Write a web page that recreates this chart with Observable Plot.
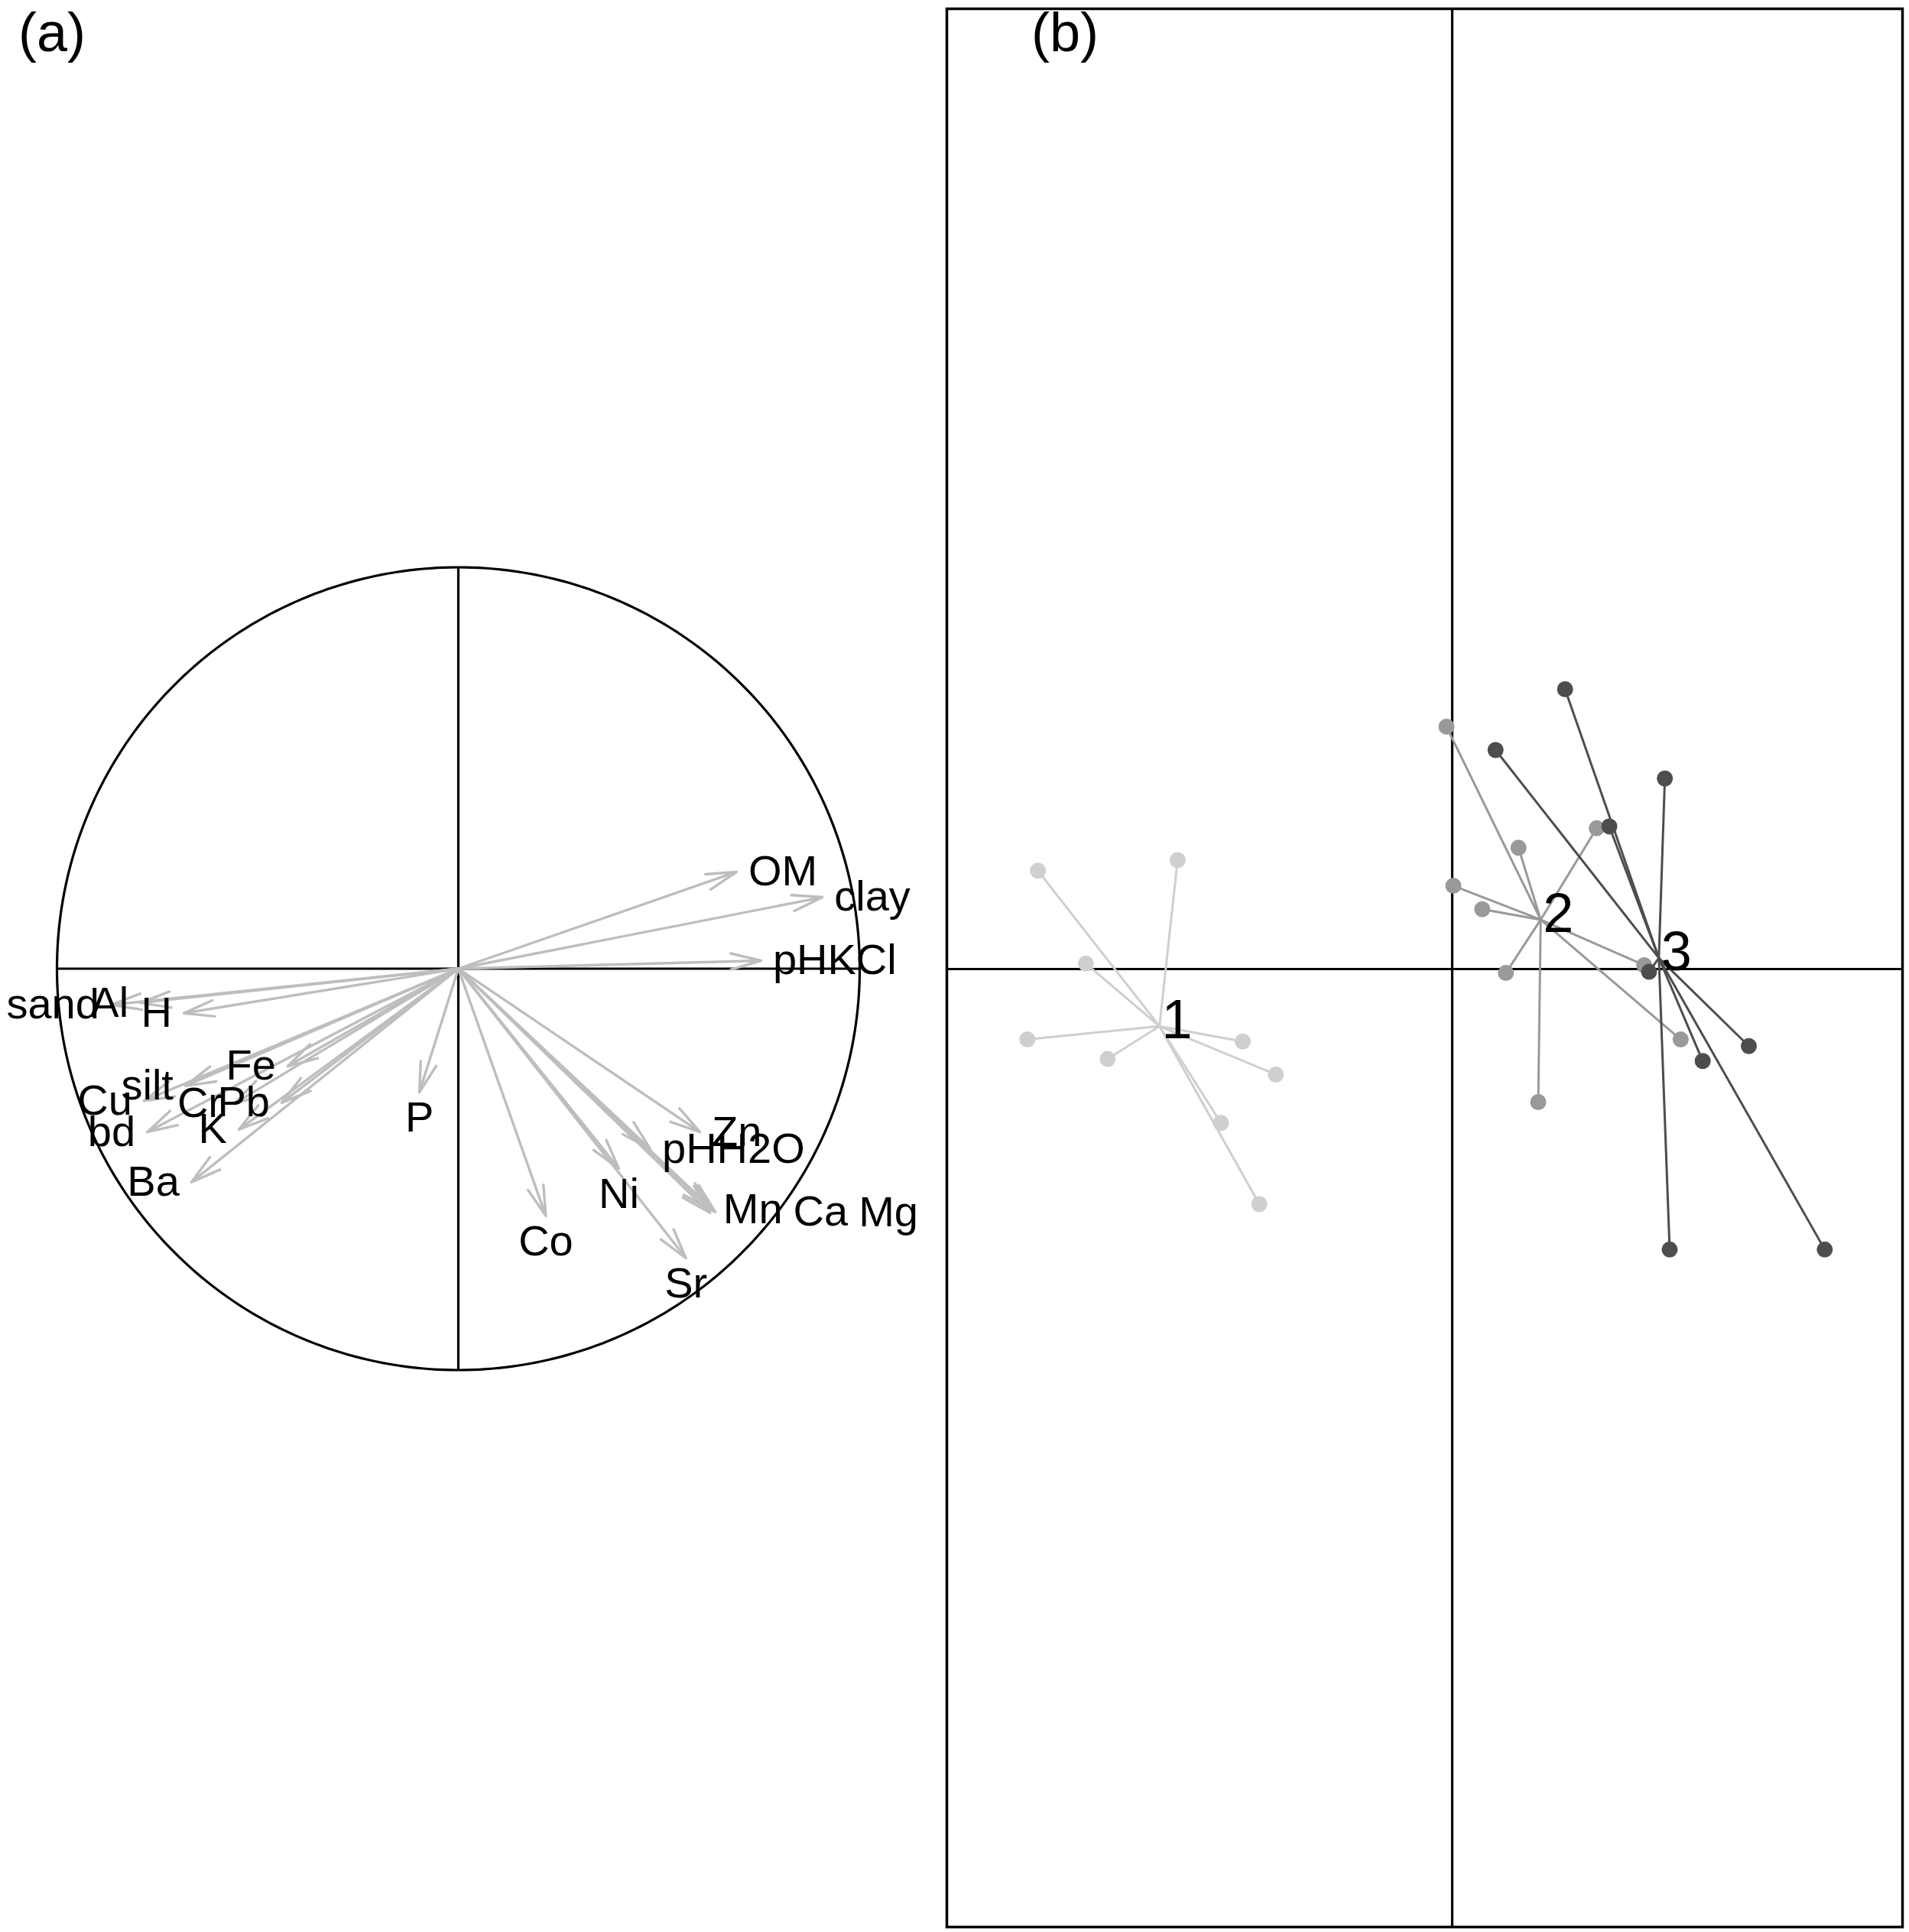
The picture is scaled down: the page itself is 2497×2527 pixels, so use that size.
<!DOCTYPE html>
<html>
<head>
<meta charset="utf-8">
<script src="https://cdn.jsdelivr.net/npm/d3@7"></script>
<script src="https://cdn.jsdelivr.net/npm/@observablehq/plot@0.6"></script>
<style>
html, body { margin: 0; padding: 0; background: #fff; }
#wrap { position: relative; width: 2497px; height: 2527px; overflow: hidden; background: #fff;
        font-family: "Liberation Sans", Arial, sans-serif; }
#wrap > svg { position: absolute; }
</style>
</head>
<body>
<div id="wrap"></div>
<script>
// ---------- Panel (a): correlation circle ----------
const varNames = ["OM", "clay", "pHKCl", "sand", "Al", "H", "Fe", "silt", "Cu", "bd", "Cr", "Pb", "K", "Ba",
                  "P", "Co", "Ni", "Sr", "Zn", "pHH2O", "Mn", "Ca", "Mg"];
const varX = [0.693, 0.907, 0.754, -0.865, -0.792, -0.684, -0.425, -0.680, -0.783, -0.775, -0.558, -0.440, -0.547, -0.665,
              -0.097, 0.218, 0.400, 0.567, 0.602, 0.478, 0.630, 0.640, 0.627];
const varY = [0.241, 0.178, 0.020, -0.090, -0.085, -0.111, -0.243, -0.292, -0.329, -0.407, -0.336, -0.334, -0.401, -0.532,
              -0.308, -0.616, -0.498, -0.721, -0.407, -0.449, -0.601, -0.606, -0.608];

// ---------- Panel (b): class scores ----------
const groupLabels = ["1", "2", "3"];
const groupColors = ["#cfcfcf", "#999999", "#4d4d4d"];
const g1x = [-1.806, -1.197, -1.597, -1.852, -1.502, -0.913, -0.769, -1.008, -0.841];
const g1y = [0.429, 0.475, 0.024, -0.307, -0.392, -0.316, -0.460, -0.671, -1.025];
const g2x = [-0.025, 0.289, 0.005, 0.131, 0.630, 0.234, 0.375, 0.996, 0.837];
const g2y = [1.057, 0.529, 0.363, 0.261, 0.614, -0.017, -0.580, -0.307, 0.017];
const g3x = [0.492, 0.189, 0.927, 0.685, 0.858, 1.293, 1.092, 0.948, 1.624];
const g3y = [1.220, 0.955, 0.831, 0.622, -0.012, -0.336, -0.401, -1.223, -1.223];
const panelBXlim = [-2.203, 1.963];
const panelBYlim = [-4.177, 4.187];
const panelTags = ["(a)", "(b)"];

// ---------- layout ----------
const FONT = '"Liberation Sans", Arial, sans-serif';
const wrap = document.getElementById("wrap");

// Panel (a)
const fsA = 56;
const R = 525, cx = 599, cy = 1266.5;
const aW = 1230, aH = 2527;

const ctx = document.createElement("canvas").getContext("2d");
ctx.font = `${fsA}px "Liberation Sans", Arial, sans-serif`;
const spaceW = ctx.measureText(" ").width;
const yh = 0.716 * fsA * 5 / 6;

const vars = varNames.map((name, i) => ({name, x: varX[i], y: varY[i]}));
vars.forEach(d => {
  const ax = d.x, ay = d.y;
  if (ax > ay && ax > -ay) d.side = "right";
  else if (ax > ay && ax <= -ay) d.side = "down";
  else if (ax <= ay && ax <= -ay) d.side = "left";
  else d.side = "up";
  d.lx = d.x;
});
// shift right-side labels that would sit on top of one another
const placed = [];
vars.filter(d => d.side === "right").forEach(d => {
  const w = ctx.measureText(d.name).width;
  let start = d.x * R + spaceW;
  const ypx = -d.y * R;
  for (const p of placed) {
    if (Math.abs(p.ypx - ypx) < 12 && start < p.end && start + w > p.start) start = p.end + 0.25 * fsA;
  }
  d.lx = (start - spaceW) / R;
  placed.push({start, end: start + w, ypx});
});

const circle = d3.range(0, 361).map(a => ({x: Math.cos(a * Math.PI / 180), y: Math.sin(a * Math.PI / 180)}));
const txt = {text: "name", fontSize: fsA, fill: "black"};

const plotA = Plot.plot({
  width: aW, height: aH,
  marginLeft: cx - R, marginRight: aW - cx - R, marginTop: cy - R, marginBottom: aH - cy - R,
  x: {domain: [-1, 1], axis: null},
  y: {domain: [-1, 1], axis: null},
  style: {fontFamily: FONT, background: "transparent", overflow: "visible"},
  marks: [
    Plot.line(circle, {x: "x", y: "y", stroke: "black", strokeWidth: 3.2}),
    Plot.ruleX([0], {y1: -1, y2: 1, stroke: "black", strokeWidth: 3.2}),
    Plot.ruleY([0], {x1: -1, x2: 1, stroke: "black", strokeWidth: 3.2}),
    Plot.arrow(vars, {x1: 0, y1: 0, x2: "x", y2: "y", stroke: "#bebebe", strokeWidth: 3.4, headLength: 18, headAngle: 30}),
    Plot.text(vars.filter(d => d.side === "right"), {...txt, x: "lx", y: "y", textAnchor: "start", dx: spaceW}),
    Plot.text(vars.filter(d => d.side === "left"), {...txt, x: "x", y: "y", textAnchor: "end", dx: -spaceW}),
    Plot.text(vars.filter(d => d.side === "down"), {...txt, x: "x", y: "y", dy: yh}),
    Plot.text(vars.filter(d => d.side === "up"), {...txt, x: "x", y: "y", dy: -yh})
  ]
});
plotA.style.left = "0px";
plotA.style.top = "0px";
wrap.appendChild(plotA);

// Panel (b)
const bLeft = 1230, bW = 1267, bH = 2527;
const groupsXY = [[g1x, g1y], [g2x, g2y], [g3x, g3y]];
const pts = [], cents = [];
groupsXY.forEach(([xs, ys], gi) => {
  const mx = d3.mean(xs), my = d3.mean(ys);
  cents.push({label: groupLabels[gi], x: mx, y: my});
  xs.forEach((x, i) => pts.push({group: groupLabels[gi], x, y: ys[i], cx: mx, cy: my}));
});

const plotB = Plot.plot({
  width: bW, height: bH,
  marginLeft: 8, marginRight: 9, marginTop: 11, marginBottom: 7,
  x: {domain: panelBXlim, axis: null},
  y: {domain: panelBYlim, axis: null},
  color: {type: "ordinal", domain: groupLabels, range: groupColors},
  style: {fontFamily: FONT, background: "transparent", overflow: "visible"},
  marks: [
    Plot.ruleX([0], {stroke: "black", strokeWidth: 3.2}),
    Plot.ruleY([0], {stroke: "black", strokeWidth: 3.2}),
    Plot.link(pts, {x1: "x", y1: "y", x2: "cx", y2: "cy", stroke: "group", strokeWidth: 3}),
    Plot.dot(pts, {x: "x", y: "y", r: 10.5, fill: "group"}),
    Plot.text(cents, {x: "x", y: "y", text: "label", textAnchor: "start", dx: 3, dy: -7, fontSize: 72, fill: "black"}),
    Plot.frame({stroke: "black", strokeWidth: 3.5})
  ]
});
plotB.style.left = bLeft + "px";
plotB.style.top = "0px";
wrap.appendChild(plotB);

// Panel tags
const ov = d3.create("svg").attr("width", 2497).attr("height", 2527)
  .style("left", "0px").style("top", "0px").style("pointer-events", "none");
ov.selectAll("text").data(panelTags).join("text")
  .attr("x", (d, i) => [24, 1349][i]).attr("y", 67)
  .attr("font-family", FONT).attr("font-size", 72).attr("fill", "black")
  .text(d => d);
wrap.appendChild(ov.node());
</script>
</body>
</html>
